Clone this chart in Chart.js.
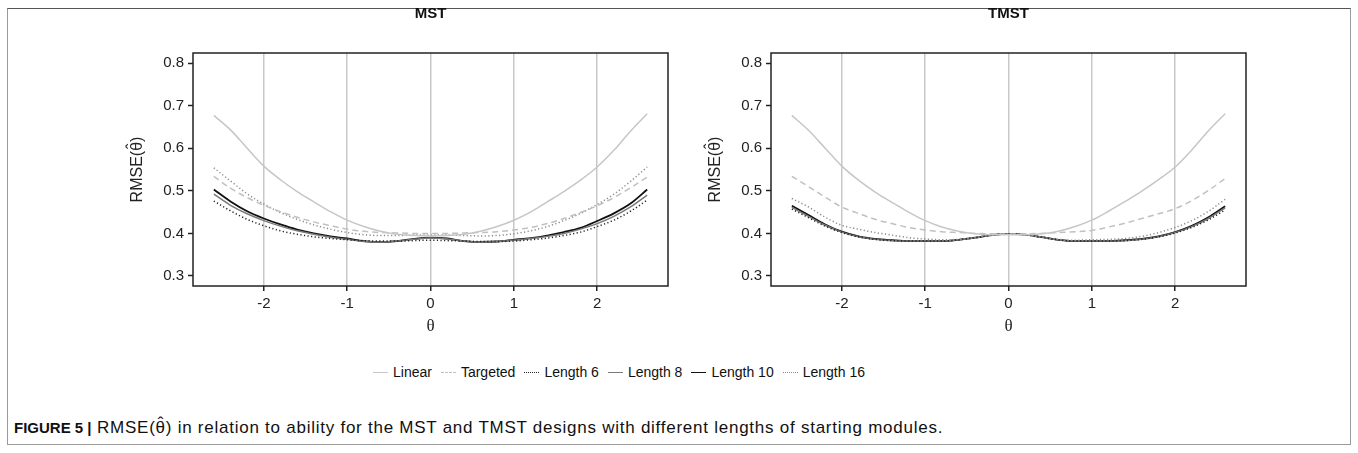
<!DOCTYPE html>
<html>
<head>
<meta charset="utf-8">
<script src="https://cdn.jsdelivr.net/npm/chart.js@4.4.1/dist/chart.umd.min.js"></script>
<style>
  body { margin: 0; background: #fff; width: 1358px; height: 453px; position: relative; overflow: hidden;
         font-family: "Liberation Sans", Arial, sans-serif; color: #111; }
  .frame { position: absolute; left: 7px; top: 8px; width: 1342px; height: 435px;
           border: 1.5px solid #9a9a9a; border-top-color: #555; }
  .panel { position: absolute; top: 0; width: 580px; height: 338px; }
  #legend { position: absolute; left: 373px; top: 362px; height: 20px; display: flex; align-items: center;
            font-size: 14px; white-space: nowrap; }
  #legend .item { display: flex; align-items: center; margin-right: 9px; }
  #legend .sample { width: 15px; height: 0; margin-right: 5px; }
  #caption { position: absolute; left: 14px; top: 418px; font-size: 17px; line-height: 20px; white-space: nowrap;
             letter-spacing: 0.75px; }
  #caption b { font-size: 15px; letter-spacing: 0; }
  .hat { position: relative; display: inline-block; }
  .hat span { position: absolute; left: 0; right: 0; top: -0.22em; text-align: center; letter-spacing: 0; }
</style>
</head>
<body>
<div class="frame"></div>
<div class="panel" style="left:100px"><canvas id="mstChart"></canvas></div>
<div class="panel" style="left:678px"><canvas id="tmstChart"></canvas></div>
<div id="legend"></div>
<div id="caption"><b>FIGURE 5 |</b> RMSE(<span class="hat">θ<span>ˆ</span></span>) in relation to ability for the MST and TMST designs with different lengths of starting modules.</div>

<script>
// ability grid
const theta = [-2.6, -2.4, -2.2, -2.0, -1.8, -1.6, -1.4, -1.2, -1.0, -0.8, -0.6, -0.4, -0.2, 0,
               0.2, 0.4, 0.6, 0.8, 1.0, 1.2, 1.4, 1.6, 1.8, 2.0, 2.2, 2.4, 2.6];
const xTicks = [-2, -1, 0, 1, 2];
const yTicks = [0.3, 0.4, 0.5, 0.6, 0.7, 0.8];
const seriesNames = ["Linear", "Targeted", "Length 6", "Length 8", "Length 10", "Length 16"];

// MST panel
const mstLinear   = [0.677, 0.643, 0.600, 0.558, 0.526, 0.498, 0.474, 0.451, 0.431, 0.416, 0.405, 0.398, 0.395, 0.394,
                     0.395, 0.398, 0.405, 0.416, 0.431, 0.450, 0.474, 0.498, 0.525, 0.556, 0.595, 0.640, 0.681];
const mstTargeted = [0.534, 0.506, 0.484, 0.466, 0.451, 0.438, 0.427, 0.418, 0.410, 0.405, 0.402, 0.401, 0.400, 0.400,
                     0.400, 0.401, 0.402, 0.404, 0.408, 0.414, 0.423, 0.435, 0.449, 0.465, 0.484, 0.507, 0.532];
const mstLen6     = [0.476, 0.453, 0.433, 0.418, 0.406, 0.398, 0.392, 0.388, 0.385, 0.383, 0.382, 0.382, 0.383, 0.384,
                     0.383, 0.382, 0.381, 0.381, 0.382, 0.385, 0.389, 0.395, 0.403, 0.416, 0.431, 0.452, 0.478];
const mstLen8     = [0.492, 0.466, 0.446, 0.430, 0.417, 0.406, 0.398, 0.391, 0.386, 0.381, 0.380, 0.382, 0.386, 0.389,
                     0.387, 0.382, 0.380, 0.381, 0.384, 0.388, 0.393, 0.400, 0.410, 0.423, 0.440, 0.462, 0.490];
const mstLen10    = [0.503, 0.475, 0.452, 0.435, 0.421, 0.409, 0.400, 0.393, 0.388, 0.382, 0.380, 0.382, 0.387, 0.390,
                     0.388, 0.382, 0.380, 0.381, 0.385, 0.389, 0.395, 0.403, 0.413, 0.429, 0.447, 0.470, 0.503];
const mstLen16    = [0.554, 0.523, 0.493, 0.469, 0.449, 0.433, 0.420, 0.410, 0.402, 0.397, 0.395, 0.395, 0.396, 0.396,
                     0.396, 0.395, 0.394, 0.395, 0.399, 0.406, 0.416, 0.430, 0.447, 0.468, 0.492, 0.522, 0.556];

// TMST panel
const tmstLinear   = [0.677, 0.642, 0.600, 0.558, 0.525, 0.497, 0.473, 0.450, 0.430, 0.415, 0.405, 0.399, 0.397, 0.397,
                      0.397, 0.399, 0.405, 0.416, 0.431, 0.452, 0.475, 0.499, 0.526, 0.556, 0.596, 0.641, 0.681];
const tmstTargeted = [0.534, 0.510, 0.485, 0.462, 0.447, 0.433, 0.423, 0.414, 0.408, 0.404, 0.402, 0.400, 0.399, 0.398,
                      0.399, 0.400, 0.402, 0.404, 0.407, 0.415, 0.424, 0.435, 0.446, 0.458, 0.477, 0.501, 0.529];
const tmstLen6     = [0.457, 0.437, 0.417, 0.402, 0.392, 0.386, 0.383, 0.382, 0.382, 0.382, 0.385, 0.390, 0.396, 0.399,
                      0.397, 0.391, 0.385, 0.382, 0.382, 0.382, 0.383, 0.386, 0.392, 0.401, 0.414, 0.432, 0.455];
const tmstLen8     = [0.461, 0.440, 0.419, 0.403, 0.392, 0.386, 0.383, 0.382, 0.382, 0.382, 0.385, 0.390, 0.396, 0.399,
                      0.397, 0.391, 0.385, 0.382, 0.382, 0.382, 0.383, 0.386, 0.392, 0.402, 0.416, 0.435, 0.460];
const tmstLen10    = [0.465, 0.443, 0.421, 0.404, 0.393, 0.387, 0.384, 0.382, 0.382, 0.382, 0.385, 0.390, 0.396, 0.399,
                      0.397, 0.391, 0.385, 0.382, 0.382, 0.382, 0.384, 0.387, 0.393, 0.403, 0.418, 0.438, 0.464];
const tmstLen16    = [0.482, 0.462, 0.438, 0.419, 0.410, 0.402, 0.396, 0.390, 0.387, 0.385, 0.386, 0.390, 0.396, 0.399,
                      0.397, 0.391, 0.386, 0.384, 0.385, 0.386, 0.388, 0.393, 0.402, 0.414, 0.430, 0.452, 0.480];

// line looks, in legend order
const looks = {
  "Linear":    { color: "#c6c6c6", width: 1.5, dash: [] },
  "Targeted":  { color: "#c0c0c0", width: 1.5, dash: [6, 4] },
  "Length 6":  { color: "#222222", width: 1.5, dash: [1.2, 2.4] },
  "Length 8":  { color: "#7a7a7a", width: 1.5, dash: [] },
  "Length 10": { color: "#111111", width: 1.8, dash: [] },
  "Length 16": { color: "#8a8a8a", width: 1.5, dash: [1.2, 2.4] }
};
const drawOrder = ["Linear", "Targeted", "Length 16", "Length 6", "Length 8", "Length 10"];

const FONT = '"Liberation Sans", Arial, sans-serif';

/* ---------- small plugins ---------- */
const panelTitle = {
  id: "panelTitle",
  afterDraw(chart, args, opts) {
    const { ctx, chartArea } = chart;
    ctx.save();
    ctx.font = "bold 15px " + FONT;
    ctx.fillStyle = "#111";
    ctx.textAlign = "center";
    ctx.textBaseline = "middle";
    ctx.fillText(opts.text, (chartArea.left + chartArea.right) / 2, 14);
    ctx.restore();
  }
};

// rotated "RMSE(θ̂)" with the hat placed by hand (combining mark does not render)
const yTitle = {
  id: "yTitle",
  afterDraw(chart) {
    const { ctx, chartArea: a } = chart;
    ctx.save();
    ctx.fillStyle = "#222";
    ctx.font = "16px " + FONT;
    ctx.translate(36, (a.top + a.bottom) / 2);
    ctx.rotate(-Math.PI / 2);
    const parts = ["RMSE(", "θ", ")"];
    const w = parts.map(p => ctx.measureText(p).width);
    let x = -(w[0] + w[1] + w[2]) / 2;
    ctx.textBaseline = "alphabetic";
    ctx.textAlign = "left";
    ctx.fillText(parts[0], x, 6); x += w[0];
    const hatX = x + w[1] / 2;
    ctx.fillText(parts[1], x, 6); x += w[1];
    ctx.fillText(parts[2], x, 6);
    ctx.textAlign = "center";
    ctx.font = "16px " + FONT;
    ctx.fillText("ˆ", hatX, 1.5);
    ctx.restore();
  }
};

const boxFrame = {
  id: "boxFrame",
  afterDraw(chart) {
    const { ctx, chartArea: a } = chart;
    ctx.save();
    ctx.strokeStyle = "#222";
    ctx.lineWidth = 1.5;
    ctx.strokeRect(a.left, a.top, a.right - a.left, a.bottom - a.top);
    ctx.restore();
  }
};

/* ---------- panels ---------- */
function makePanel(canvasId, title, values) {
  const datasets = drawOrder.map(name => {
    const lk = looks[name];
    return {
      label: name,
      data: theta.map((t, i) => ({ x: t, y: values[name][i] })),
      borderColor: lk.color,
      borderWidth: lk.width,
      borderDash: lk.dash,
      pointRadius: 0,
      fill: false,
      cubicInterpolationMode: "monotone"
    };
  });

  return new Chart(document.getElementById(canvasId), {
    type: "line",
    data: { datasets },
    plugins: [panelTitle, yTitle, boxFrame],
    options: {
      animation: false,
      responsive: true,
      maintainAspectRatio: false,
      devicePixelRatio: 1,
      layout: { padding: { top: 53, right: 12, left: 0, bottom: 0 } },
      plugins: {
        legend: { display: false },
        tooltip: { enabled: false },
        panelTitle: { text: title }
      },
      scales: {
        x: {
          type: "linear",
          min: -2.85,
          max: 2.85,
          afterBuildTicks: s => { s.ticks = xTicks.map(v => ({ value: v })); },
          afterFit: s => { s.height = 52; },
          grid: { color: "#c8c8c8", lineWidth: 1.5, tickColor: "#222", tickLength: 5, tickWidth: 1.5 },
          border: { display: false },
          ticks: { font: { family: FONT, size: 15 }, color: "#222", padding: 4, maxRotation: 0 },
          title: { display: true, text: "θ", font: { family: '"Liberation Serif", "Times New Roman", serif', size: 17 },
                   color: "#222", padding: { top: 0, bottom: 1 } }
        },
        y: {
          min: 0.2765,
          max: 0.8235,
          afterBuildTicks: s => { s.ticks = yTicks.map(v => ({ value: v })); },
          afterFit: s => { s.width = 93; },
          grid: { drawOnChartArea: false, tickColor: "#222", tickLength: 5, tickWidth: 1.5 },
          border: { display: false },
          ticks: { font: { family: FONT, size: 15 }, color: "#222", padding: 4, callback: v => v.toFixed(1) },
          title: { display: false }
        }
      }
    }
  });
}

makePanel("mstChart", "MST", {
  "Linear": mstLinear, "Targeted": mstTargeted, "Length 6": mstLen6,
  "Length 8": mstLen8, "Length 10": mstLen10, "Length 16": mstLen16
});
makePanel("tmstChart", "TMST", {
  "Linear": tmstLinear, "Targeted": tmstTargeted, "Length 6": tmstLen6,
  "Length 8": tmstLen8, "Length 10": tmstLen10, "Length 16": tmstLen16
});

/* ---------- legend ---------- */
const legendEl = document.getElementById("legend");
seriesNames.forEach(name => {
  const lk = looks[name];
  const style = lk.dash.length === 0 ? "solid" : (lk.dash[0] > 2 ? "dashed" : "dotted");
  const item = document.createElement("span");
  item.className = "item";
  item.innerHTML = `<span class="sample" style="border-top:${lk.width}px ${style} ${lk.color}"></span><span>${name}</span>`;
  legendEl.appendChild(item);
});
</script>
</body>
</html>
